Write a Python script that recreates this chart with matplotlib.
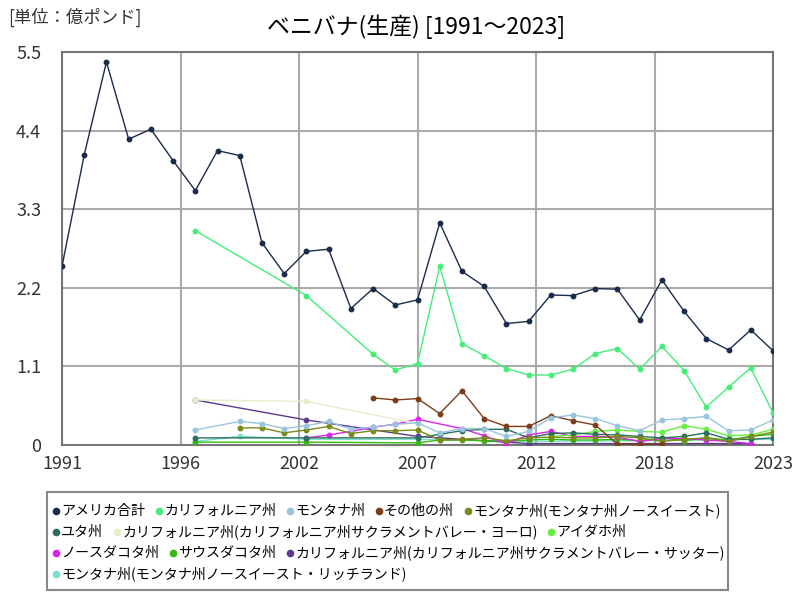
import numpy as np
import matplotlib.pyplot as plt
from matplotlib.patches import Rectangle
from matplotlib.lines import Line2D

plt.rcParams['font.family'] = ['Noto Sans CJK JP', 'DejaVu Sans']

# data (億ポンド)
years_all = list(range(1991, 2024))
total = [2.50, 4.06, 5.36, 4.28, 4.42, 3.98, 3.56, 4.12, 4.05, 2.83, 2.40, 2.71, 2.74, 1.91,
         2.19, 1.96, 2.03, 3.11, 2.43, 2.22, 1.70, 1.73, 2.10, 2.09, 2.19, 2.18, 1.75, 2.31,
         1.87, 1.49, 1.33, 1.61, 1.32]

ca_years = [1997, 2002] + list(range(2005, 2024))
ca = [3.00, 2.09, 1.27, 1.05, 1.14, 2.50, 1.42, 1.25, 1.07, 0.98, 0.98, 1.06, 1.28, 1.35,
      1.06, 1.38, 1.04, 0.53, 0.81, 1.08, 0.45]

mt_years = [1997] + list(range(1999, 2024))
mt = [0.21, 0.33, 0.30, 0.23, 0.27, 0.33, 0.22, 0.25, 0.29, 0.31, 0.17, 0.23, 0.23, 0.12,
      0.19, 0.38, 0.42, 0.37, 0.27, 0.20, 0.35, 0.37, 0.40, 0.20, 0.21, 0.35]

other_years = list(range(2005, 2019))
other = [0.66, 0.63, 0.65, 0.44, 0.76, 0.37, 0.26, 0.26, 0.41, 0.34, 0.28, 0.01, 0.01, 0.01]

mtne_years = list(range(1999, 2024))
mtne = [0.24, 0.24, 0.17, 0.21, 0.26, 0.16, 0.20, 0.20, 0.21, 0.07, 0.08, 0.10, 0.06, 0.10,
        0.11, 0.10, 0.10, 0.12, 0.10, 0.05, 0.08, 0.10, 0.05, 0.12, 0.18]

ut_years = [1997, 2002] + list(range(2007, 2024))
ut = [0.10, 0.10, 0.10, 0.15, 0.20, 0.22, 0.22, 0.10, 0.16, 0.17, 0.15, 0.14, 0.12, 0.10,
      0.12, 0.17, 0.08, 0.08, 0.10]

yolo_years = [1997, 2002, 2007]
yolo = [0.63, 0.61, 0.30]

id_years = list(range(2013, 2024))
idaho = [0.12, 0.14, 0.19, 0.21, 0.19, 0.18, 0.27, 0.22, 0.13, 0.14, 0.22]

nd_years = list(range(2002, 2008)) + list(range(2009, 2023))
nd = [0.10, 0.14, 0.19, 0.25, 0.29, 0.36, 0.23, 0.13, 0.02, 0.14, 0.19, 0.12, 0.12, 0.11,
      0.05, 0.09, 0.09, 0.07, 0.05, 0.02]

sd_years = [1997, 2002, 2007] + list(range(2008, 2024))
sd = [0.04, 0.04, 0.03, 0.07, 0.07, 0.06, 0.05, 0.07, 0.08, 0.07, 0.07, 0.08, 0.06, 0.10,
      0.06, 0.10, 0.07, 0.12, 0.15]

sutter_years = [1997, 2002, 2007, 2012, 2017, 2022]
sutter = [0.63, 0.35, 0.12, 0.02, 0.02, 0.02]

rich_years = [1997, 1999, 2002, 2007, 2012, 2017, 2023]
rich = [0.05, 0.12, 0.08, 0.08, 0.05, 0.06, 0.08]

names = ['アメリカ合計', 'カリフォルニア州', 'モンタナ州', 'その他の州',
         'モンタナ州(モンタナ州ノースイースト)', 'ユタ州',
         'カリフォルニア州(カリフォルニア州サクラメントバレー・ヨーロ)', 'アイダホ州',
         'ノースダコタ州', 'サウスダコタ州',
         'カリフォルニア州(カリフォルニア州サクラメントバレー・サッター)',
         'モンタナ州(モンタナ州ノースイースト・リッチランド)']
colors = ['#1b2b4b', '#44ee77', '#99c4dd', '#7a3e1a', '#7a8a1a', '#2e6e60',
          '#e8ecc8', '#66ee44', '#dd22ee', '#33bb11', '#5a3a8a', '#77e0cc']
series = [(years_all, total), (ca_years, ca), (mt_years, mt), (other_years, other),
          (mtne_years, mtne), (ut_years, ut), (yolo_years, yolo), (id_years, idaho),
          (nd_years, nd), (sd_years, sd), (sutter_years, sutter), (rich_years, rich)]

fig = plt.figure(figsize=(8, 6), dpi=100)
ax = fig.add_axes([62/800, 1-445/600, 711/800, 393/600])
for k in range(len(series)-1, -1, -1):
    yrs, vals = series[k]
    ax.plot(yrs, vals, color=colors[k], lw=1, marker='o', ms=3.2, zorder=3+len(series)-k)

ax.set_xlim(1991, 2023)
ax.set_ylim(0, 5.5)
xt = np.linspace(1991, 2023, 7)
ax.set_xticks(xt)
ax.set_xticklabels([str(int(round(v))) for v in xt])
yt = np.arange(0, 5.51, 1.1)
ax.set_yticks(yt)
ax.set_yticklabels(['0'] + ['%.1f' % v for v in yt[1:]])
ax.grid(color='#aaaaaa', lw=1.5)
ax.set_axisbelow(True)
ax.tick_params(length=0, labelsize=13, colors='#333333')
ax.tick_params(axis='y', pad=15)
ax.tick_params(axis='x', pad=7)
for s in ax.spines.values():
    s.set_color('#777777')
    s.set_linewidth(1.5)

fig.text(416/800, 1-27/600, 'ベニバナ(生産) [1991～2023]', ha='center', va='center', fontsize=16.5)
fig.text(8/800, 1-17/600, '[単位：億ポンド]', va='center', fontsize=12.5, color='#333333')

# legend laid out in flowing rows like the reference
fig.add_artist(Rectangle((47/800, 1-590/600), 681/800, 98/600, transform=fig.transFigure,
                         fill=False, edgecolor='#888888', lw=1.5))
renderer = fig.canvas.get_renderer()
rows = [[0, 1, 2, 3, 4], [5, 6, 7], [8, 9, 10], [11]]
row_y = [511, 532, 553, 574]
for r, ypx in zip(rows, row_y):
    xpx = 56
    for i in r:
        fig.add_artist(Line2D([xpx/800], [1-ypx/600], marker='o', ms=4.5, ls='',
                              color=colors[i], transform=fig.transFigure))
        t = fig.text((xpx+5)/800, 1-ypx/600, names[i], fontsize=10.1, va='center')
        w = t.get_window_extent(renderer).width
        xpx += 5 + w + 14

plt.savefig('out.png', dpi=100)
plt.close()
